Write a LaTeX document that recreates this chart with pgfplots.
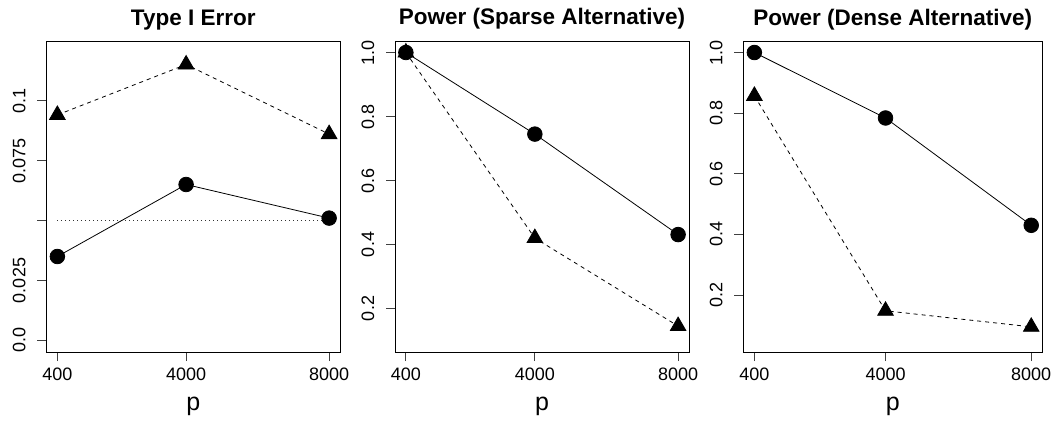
\documentclass[border=0pt]{standalone}
\usepackage{fontspec}
\setmainfont{Liberation Sans}
\usepackage{pgfplots}
\pgfplotsset{compat=1.18}

\begin{document}
\begin{tikzpicture}
\useasboundingbox (0,0) rectangle (1059pt,424pt);

\pgfplotsset{
  rpanel/.style={
    scale only axis, height=311pt, anchor=south west,
    axis line style={black, line width=0.8pt},
    tick align=outside, tick pos=left, major tick length=9pt,
    tick style={black!75, line width=0.8pt},
    xmin=96, xmax=8304,
    xtick={400,4000,8000}, xticklabels={400,4000,8000},
    ticklabel style={font=\fontsize{18}{18}\selectfont},
    xticklabel style={anchor=base}, xticklabel shift=19pt,
    yticklabel style={rotate=90, anchor=base}, yticklabel shift=12pt,
    xlabel={p},
    xlabel style={at={(axis description cs:0.5,0)}, anchor=base, yshift=-58pt,
      font=\fontsize{25}{25}\selectfont},
    title style={at={(axis description cs:0.5,1)}, anchor=base, yshift=10pt,
      font=\fontsize{22.5}{22.5}\selectfont\bfseries},
    clip=false,
  },
  circ/.style={black, line width=0.8pt, mark=*, mark size=7.3pt, mark options={solid}},
  tri/.style={black, line width=0.8pt, dash pattern=on 4pt off 4pt,
    mark=triangle*, mark size=9pt, mark options={solid}},
}

% Type I error
\begin{axis}[rpanel, at={(46.5pt,72pt)}, width=293.5pt,
  title={Type I Error},
  ymin=-0.0048, ymax=0.1248,
  ytick={0,0.025,0.05,0.075,0.1}, yticklabels={0.0,0.025,,0.075,0.1}]
\addplot[black!80, line width=0.6pt, dash pattern=on 1pt off 3pt] coordinates {(400,0.05) (8000,0.05)};
\addplot[circ] coordinates {(400,0.035) (4000,0.065) (8000,0.051)};
\addplot[tri] coordinates {(400,0.094) (4000,0.115) (8000,0.086)};
\end{axis}

% sparse alternative
\begin{axis}[rpanel, at={(395pt,72pt)}, width=294pt,
  title={Power (Sparse Alternative)},
  ymin=0.064, ymax=1.036,
  ytick={0.2,0.4,0.6,0.8,1.0}, yticklabels={0.2,0.4,0.6,0.8,1.0}]
\addplot[circ] coordinates {(400,1.0) (4000,0.745) (8000,0.431)};
\addplot[tri] coordinates {(400,1.0) (4000,0.42) (8000,0.145)};
\end{axis}

% dense alternative
\begin{axis}[rpanel, at={(743.3pt,72pt)}, width=299pt,
  title={Power (Dense Alternative)},
  ymin=0.012, ymax=1.038,
  ytick={0.2,0.4,0.6,0.8,1.0}, yticklabels={0.2,0.4,0.6,0.8,1.0}]
\addplot[circ] coordinates {(400,1.0) (4000,0.784) (8000,0.43)};
\addplot[tri] coordinates {(400,0.857) (4000,0.148) (8000,0.095)};
\end{axis}

\end{tikzpicture}
\end{document}
